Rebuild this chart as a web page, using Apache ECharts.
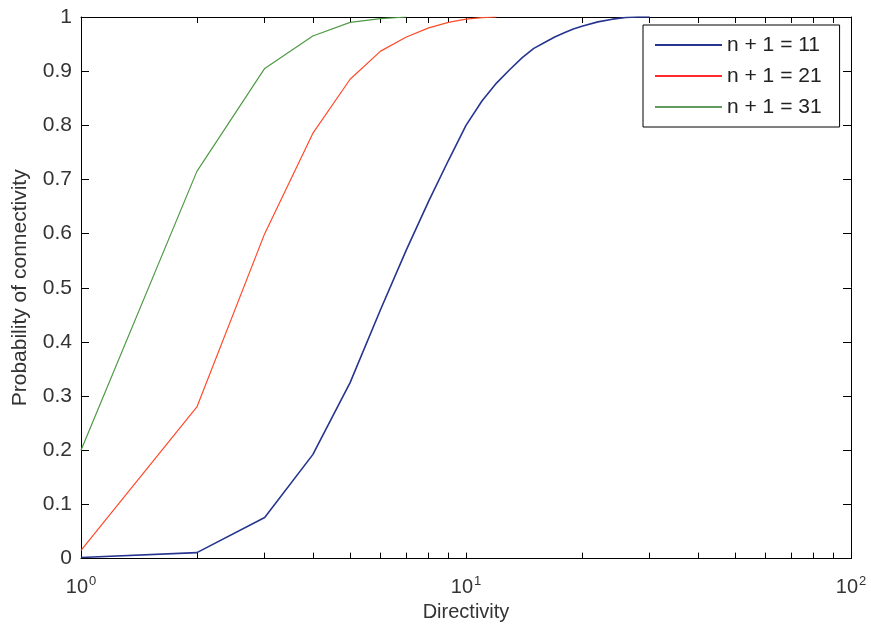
<!DOCTYPE html>
<html>
<head>
<meta charset="utf-8">
<script src="https://cdn.jsdelivr.net/npm/echarts@6/dist/echarts.min.js"></script>
<style>html,body{margin:0;padding:0;background:#fff}#c{width:871px;height:627px}</style>
</head>
<body>
<div id="c"></div>
<script>
const blueX = [1, 2, 3, 4, 5, 6, 7, 8, 9, 10, 11, 12, 13, 14, 15, 16, 17, 18, 19, 20, 22, 24, 26, 28, 30];
const blueY = [0.002, 0.011, 0.076, 0.192, 0.325, 0.46, 0.57, 0.66, 0.735, 0.8, 0.845, 0.878, 0.903, 0.925, 0.942, 0.953, 0.963, 0.971, 0.978, 0.983, 0.991, 0.996, 0.999, 1.0, 1.0];
const redX = [1, 2, 3, 4, 5, 6, 7, 8, 9, 10, 11, 12];
const redY = [0.015, 0.28, 0.6, 0.785, 0.885, 0.937, 0.963, 0.98, 0.99, 0.996, 0.999, 1.0];
const greenX = [1, 2, 3, 4, 5, 6, 7];
const greenY = [0.2, 0.715, 0.905, 0.965, 0.99, 0.997, 1.0];
const seriesNames = ['n + 1 = 11', 'n + 1 = 21', 'n + 1 = 31'];
const xMajorTicks = [1, 10, 100];
const xAllTicks = [1, 2, 3, 4, 5, 6, 7, 8, 9, 10, 20, 30, 40, 50, 60, 70, 80, 90, 100];

const pair = (xs, ys) => xs.map((x, i) => [x, ys[i]]);
const font = 'Liberation Sans, Arial, sans-serif';

const chart = echarts.init(document.getElementById('c'));
chart.setOption({
  backgroundColor: '#fff',
  animation: false,
  grid: { left: 81, right: 20, top: 17, bottom: 68 },
  legend: {
    orient: 'vertical',
    left: 643, top: 25,
    padding: [8, 18, 8, 12],
    itemWidth: 67, itemHeight: 2, itemGap: 7,
    icon: 'rect',
    borderColor: '#000', borderWidth: 1, backgroundColor: '#fff',
    textStyle: { fontFamily: font, fontSize: 21, color: '#222', lineHeight: 24 },
    data: seriesNames
  },
  xAxis: [{
    type: 'log', logBase: 10, min: 1, max: 100, position: 'bottom',
    name: 'Directivity', nameLocation: 'middle', nameGap: 42,
    nameTextStyle: { fontFamily: font, fontSize: 20, color: '#333' },
    axisLine: { show: true, onZero: false, lineStyle: { color: '#000', width: 1 } },
    axisTick: { show: true, inside: true, length: 6, customValues: xAllTicks, lineStyle: { color: '#000' } },
    axisLabel: {
      customValues: xMajorTicks, margin: 16,
      formatter: v => '10{sup|' + Math.round(Math.log10(v)) + '}',
      rich: {
        sup: { fontSize: 13, fontFamily: font, color: '#333', verticalAlign: 'top', padding: [0, 0, 12, 1] }
      },
      fontFamily: font, fontSize: 20, color: '#333'
    },
    splitLine: { show: false }, minorTick: { show: false }
  }, {
    type: 'log', logBase: 10, min: 1, max: 100, position: 'top',
    axisLine: { show: true, onZero: false, lineStyle: { color: '#000', width: 1 } },
    axisTick: { show: true, inside: true, length: 6, customValues: xAllTicks, lineStyle: { color: '#000' } },
    axisLabel: { show: false }, splitLine: { show: false }
  }],
  yAxis: [{
    type: 'value', min: 0, max: 1, interval: 0.1, position: 'left',
    name: 'Probability of connectivity', nameLocation: 'middle', nameGap: 50,
    nameTextStyle: { fontFamily: font, fontSize: 21, color: '#333' },
    axisLine: { show: true, onZero: false, lineStyle: { color: '#000', width: 1 } },
    axisTick: { show: true, inside: true, length: 8, lineStyle: { color: '#000' } },
    axisLabel: { fontFamily: font, fontSize: 21, color: '#333', margin: 9,
      formatter: v => String(+v.toFixed(1)) },
    splitLine: { show: false }
  }, {
    type: 'value', min: 0, max: 1, interval: 0.1, position: 'right',
    axisLine: { show: true, onZero: false, lineStyle: { color: '#000', width: 1 } },
    axisTick: { show: true, inside: true, length: 8, lineStyle: { color: '#000' } },
    axisLabel: { show: false }, splitLine: { show: false }
  }],
  series: [
    { name: seriesNames[0], type: 'line', data: pair(blueX, blueY), symbol: 'none',
      lineStyle: { color: '#26358f', width: 1.6 }, itemStyle: { color: '#26358f' } },
    { name: seriesNames[1], type: 'line', data: pair(redX, redY), symbol: 'none',
      lineStyle: { color: '#ff4a2a', width: 1.2 }, itemStyle: { color: '#ff2a2a' } },
    { name: seriesNames[2], type: 'line', data: pair(greenX, greenY), symbol: 'none',
      lineStyle: { color: '#4f9a45', width: 1.2 }, itemStyle: { color: '#5f9a5f' } }
  ]
});
</script>
</body>
</html>
